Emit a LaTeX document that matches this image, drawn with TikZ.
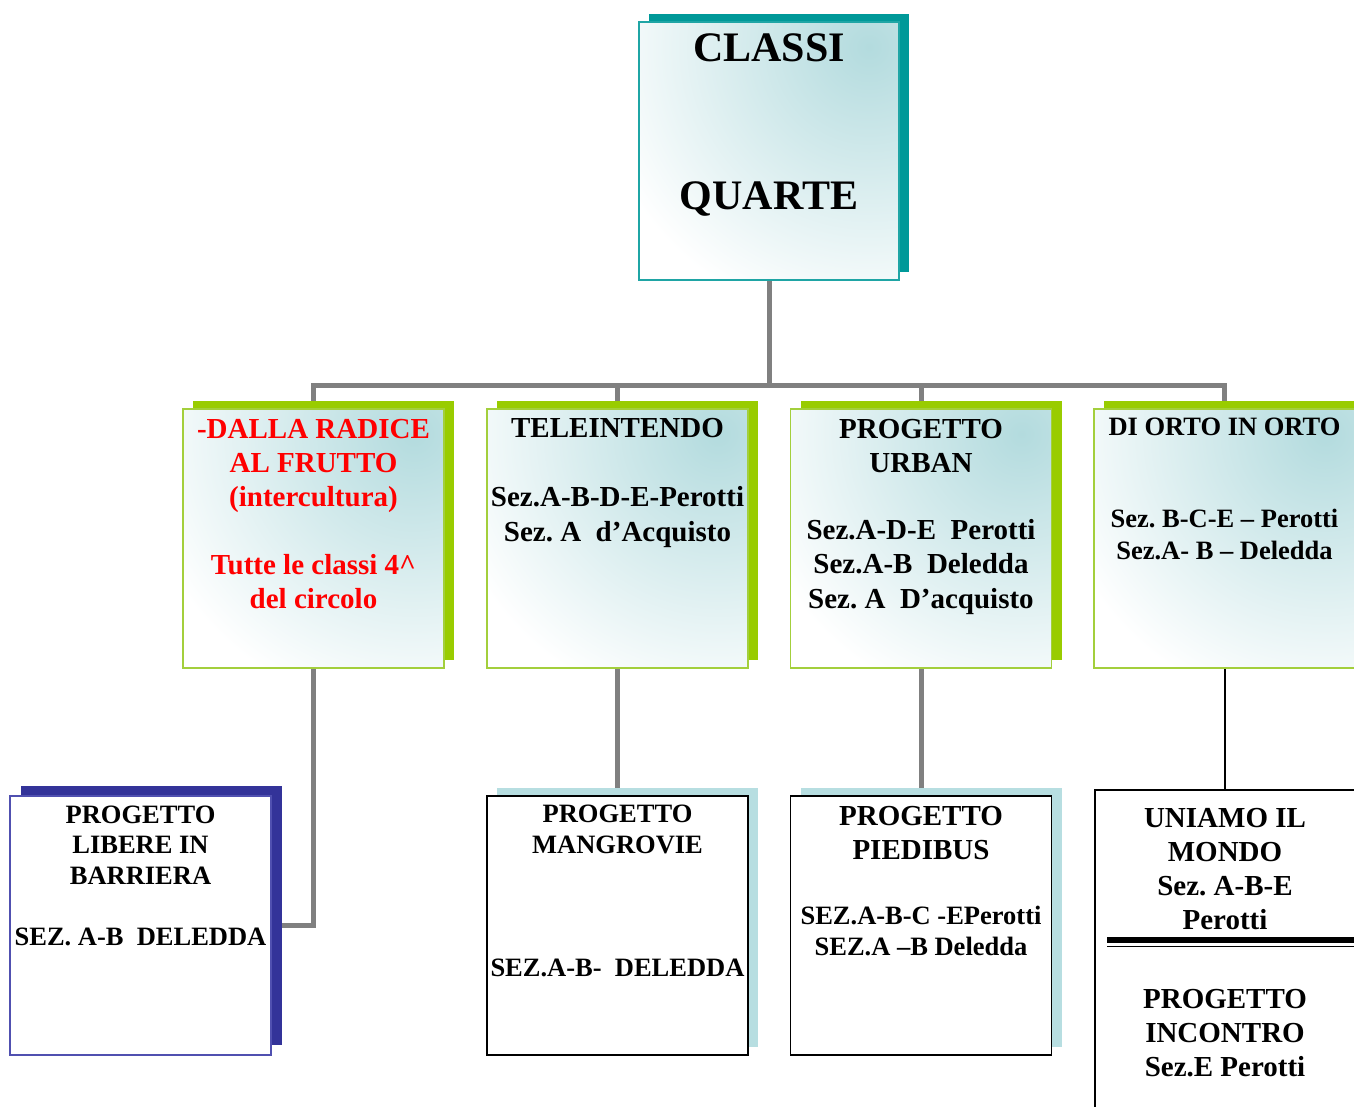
\documentclass[tikz,border=0pt]{standalone}
\usepackage{fontspec}
\setmainfont{Liberation Serif}
\usetikzlibrary{shadows,backgrounds}
\AtBeginDocument{\frenchspacing}
\definecolor{tealsh}{HTML}{009999}
\definecolor{tealbd}{HTML}{1FA5A5}
\definecolor{grnsh}{HTML}{99CC00}
\definecolor{grnbd}{HTML}{A3CF3C}
\definecolor{navysh}{HTML}{333399}
\definecolor{navybd}{HTML}{5050B0}
\definecolor{ltblue}{HTML}{B7DEE1}
\definecolor{gradc}{HTML}{B3DBDE}
\definecolor{conngray}{HTML}{808080}
\begin{document}
\begin{tikzpicture}[x=1pt,y=-1pt,
  box/.style={rectangle, inner sep=0pt, outer sep=0pt, line width=1.5pt},
  grad/.style={fill=white, path picture={\shade[inner color=gradc, outer color=white] ([xshift=-30pt,yshift=-25pt]path picture bounding box.north east) circle (280pt);}},
  sh/.style={general shadow={fill=#1, shadow xshift=10pt, shadow yshift=8pt}},
  lvbox/.style={box, sh=grnsh, grad, draw=grnbd, minimum width=261pt, minimum height=259pt},
  lowbox/.style={box, fill=white, draw=black, minimum width=261pt, minimum height=259pt},
  conn/.style={draw=conngray, line width=5pt},
  tbig/.style={anchor=base, align=center, inner sep=0pt, font=\fontsize{42}{48}\selectfont\bfseries},
  tmid/.style={anchor=base, align=center, inner sep=0pt, font=\fontsize{29}{#1}\selectfont\bfseries},
  tsml/.style={anchor=base, align=center, inner sep=0pt, font=\fontsize{26.5}{#1}\selectfont\bfseries}
]
\useasboundingbox (0,0) rectangle (1354,1107);

% top
\node[box, sh=tealsh, grad, draw=tealbd, minimum width=260pt, minimum height=258pt] (top) at (769,151) {};
\node[tbig] (ttop) at (769,210) {CLASSI\\[100pt]QUARTE};

% level 2
\node[lvbox] (b1) at (313.5,538.5) {};
\node[lvbox] (b2) at (617.5,538.5) {};
\node[lvbox] (b3) at (921,538.5) {};
\node[lvbox] (b4) at (1224.5,538.5) {};

\node[tmid=34, text=red] (t1) at (313.5,608) {-DALLA RADICE\\AL FRUTTO\\(intercultura)\\[34pt]Tutte le classi 4\textasciicircum\\del circolo};
\node[tmid=34.5] (t2) at (617.5,541) {TELEINTENDO\\[34.5pt]Sez.A-B-D-E-Perotti\\Sez.\ A\ \ d’Acquisto};
\node[tmid=34.5] (t3) at (921,608) {PROGETTO\\URBAN\\[32pt]Sez.A-D-E\ \ Perotti\\Sez.A-B\ \ Deledda\\Sez.\ A\ \ D’acquisto};
\node[tsml=32] (t4) at (1224.5,559) {DI ORTO IN ORTO\\[60pt]Sez.\ B-C-E -- Perotti\\Sez.A- B -- Deledda};

% level 3
\node[box, fill=white, draw=navybd, general shadow={fill=navysh, shadow xshift=11pt, shadow yshift=10pt}, minimum width=261pt, minimum height=259pt] (lib) at (140.5,925.5) {};
\node[lowbox, sh=ltblue] (mang) at (617.5,925.5) {};
\node[lowbox, sh=ltblue] (pied) at (921,925.5) {};
\node[lowbox, minimum width=270pt, minimum height=330pt] (uni) at (1230,955) {};

\node[tsml=30.5] (tlib) at (140.5,945) {PROGETTO\\LIBERE IN\\BARRIERA\\[30.5pt]SEZ.\ A-B\ \ DELEDDA};
\node[tsml=30.75] (tmang) at (617.5,976) {PROGETTO\\MANGROVIE\\[92pt]SEZ.A-B-\ \ DELEDDA};
\node[tmid=34] (tpied) at (921,859) {PROGETTO\\PIEDIBUS};
\node[tsml=31] (tpied2) at (921,955) {SEZ.A-B-C -EPerotti\\SEZ.A --B Deledda};
\node[tmid=33.7] (tuni) at (1225,929) {UNIAMO IL\\MONDO\\Sez.\ A-B-E\\Perotti};
\node[tmid=34] (tinc) at (1225,1076) {PROGETTO\\INCONTRO\\Sez.E Perotti};

\draw[line width=6pt] (1107,940) -- (1362,940);
\draw[line width=1.6pt] (1107,946.5) -- (1362,946.5);

% connectors
\begin{pgfonlayer}{background}
\coordinate (bus) at (769,385);
\draw[conn] (top.south) -- (bus);
\draw[conn] (b1.north) |- (bus) -| (b4.north);
\draw[conn] (b2.north) -- (b2.north |- bus);
\draw[conn] (b3.north) -- (b3.north |- bus);
\draw[conn] (b1.south) |- (lib.east);
\draw[conn] (b2.south) -- (mang.north);
\draw[conn] (b3.south) -- (pied.north);
\draw[line width=2pt] (b4.south) -- (uni.north -| b4.south);
\end{pgfonlayer}
\end{tikzpicture}
\end{document}
